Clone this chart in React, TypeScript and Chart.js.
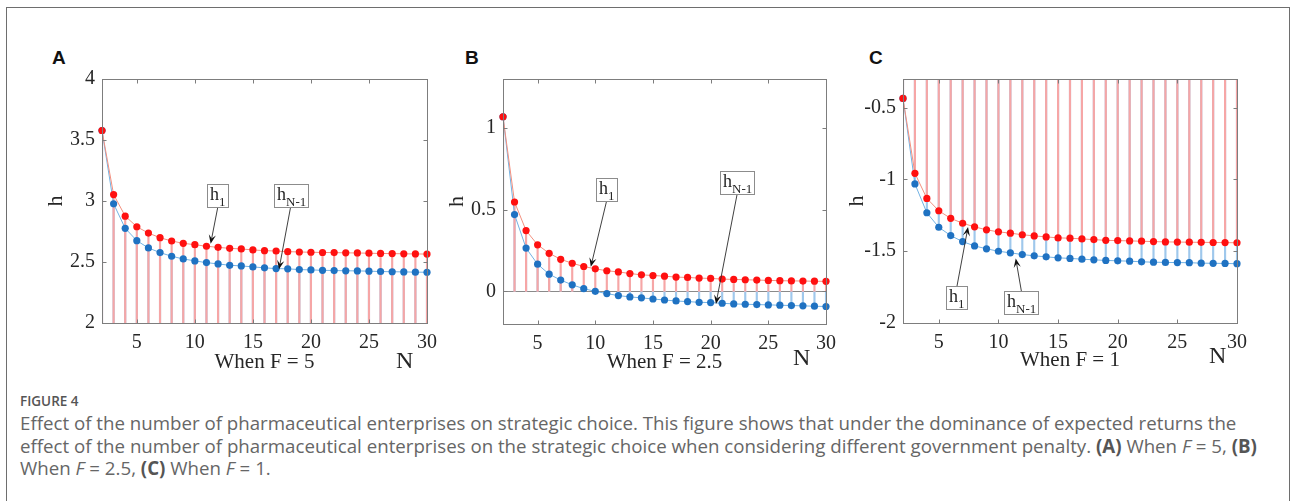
import React, { useEffect, useRef } from 'react';
import { Chart, registerables } from 'chart.js';

Chart.register(...registerables);

// ---------------- data ----------------
const nValues = [2, 3, 4, 5, 6, 7, 8, 9, 10, 11, 12, 13, 14, 15, 16, 17, 18, 19, 20, 21, 22, 23, 24, 25, 26, 27, 28, 29, 30];

const h1A = [3.578, 3.053, 2.876, 2.789, 2.737, 2.699, 2.672, 2.653, 2.642, 2.629, 2.62, 2.612, 2.607, 2.599, 2.593, 2.59, 2.585, 2.582, 2.58, 2.578, 2.577, 2.575, 2.574, 2.572, 2.57, 2.569, 2.567, 2.566, 2.565];
const hN1A = [3.578, 2.977, 2.776, 2.675, 2.615, 2.577, 2.547, 2.525, 2.509, 2.495, 2.484, 2.473, 2.468, 2.46, 2.452, 2.446, 2.444, 2.438, 2.435, 2.432, 2.43, 2.428, 2.427, 2.425, 2.422, 2.42, 2.419, 2.417, 2.416];

const h1B = [1.069, 0.547, 0.372, 0.285, 0.233, 0.196, 0.172, 0.152, 0.138, 0.126, 0.119, 0.109, 0.101, 0.097, 0.093, 0.087, 0.085, 0.081, 0.079, 0.075, 0.073, 0.071, 0.069, 0.067, 0.065, 0.064, 0.063, 0.062, 0.061];
const hN1B = [1.069, 0.47, 0.265, 0.166, 0.105, 0.069, 0.04, 0.016, 0.0, -0.014, -0.026, -0.034, -0.04, -0.047, -0.053, -0.059, -0.063, -0.067, -0.069, -0.073, -0.077, -0.079, -0.081, -0.083, -0.085, -0.087, -0.089, -0.091, -0.093];

const h1C = [-0.435, -0.957, -1.132, -1.218, -1.271, -1.305, -1.33, -1.351, -1.365, -1.374, -1.385, -1.393, -1.4, -1.407, -1.409, -1.414, -1.419, -1.424, -1.426, -1.428, -1.43, -1.433, -1.435, -1.436, -1.437, -1.438, -1.439, -1.44, -1.441];
const hN1C = [-0.435, -1.031, -1.232, -1.333, -1.391, -1.433, -1.463, -1.483, -1.5, -1.511, -1.523, -1.532, -1.539, -1.546, -1.55, -1.555, -1.56, -1.564, -1.567, -1.569, -1.574, -1.576, -1.578, -1.579, -1.58, -1.583, -1.584, -1.585, -1.587];

const xTicks = [5, 10, 15, 20, 25, 30];
const yTicksA = [2, 2.5, 3, 3.5, 4];
const yTicksB = [0, 0.5, 1];
const yTicksC = [-2, -1.5, -1, -0.5];

// ---------------- styles ----------------
const SERIF = "'Liberation Serif', 'Times New Roman', serif";
const SANS = "'Open Sans', 'Liberation Sans', sans-serif";
const AXIS = '#7d7d7d';
const TXT = '#262626';

type Annot = { sub: string; bx: number; by: number; tx: number; ty: number };
type PanelCfg = {
  letter: string;
  h1: number[];
  hN1: number[];
  yTicks: number[];
  yMin: number;
  yMax: number;
  title: string;
  left: number;
  top: number;
  width: number;
  height: number;
  padTop: number;
  padRight: number;
  xAxisH: number;
  titlePadB: number;
  nDx: number;
  nDy: number;
  annots: Annot[];
};

const panels: PanelCfg[] = [
  {
    letter: 'A', h1: h1A, hN1: hN1A, yTicks: yTicksA, yMin: 2, yMax: 4, title: 'When F = 5',
    left: 30, top: 60, width: 420, height: 330, padTop: 18, padRight: 23, xAxisH: 67, titlePadB: 17,
    nDx: -31, nDy: 45,
    annots: [
      { sub: '1', bx: 11.97, by: 3.045, tx: 11.36, ty: 2.65 },
      { sub: 'N-1', bx: 18.24, by: 3.045, tx: 17.25, ty: 2.44 },
    ],
  },
  {
    letter: 'B', h1: h1B, hN1: hN1B, yTicks: yTicksB, yMin: -0.2, yMax: 1.3, title: 'When F = 2.5',
    left: 431, top: 60, width: 419, height: 330, padTop: 17, padRight: 24, xAxisH: 66, titlePadB: 17,
    nDx: -33, nDy: 41,
    annots: [
      { sub: '1', bx: 10.97, by: 0.622, tx: 9.61, ty: 0.15 },
      { sub: 'N-1', bx: 22.29, by: 0.669, tx: 20.46, ty: -0.077 },
    ],
  },
  {
    letter: 'C', h1: h1C, hN1: hN1C, yTicks: yTicksC, yMin: -2, yMax: -0.3, title: 'When F = 1',
    left: 831, top: 60, width: 431, height: 330, padTop: 18, padRight: 25, xAxisH: 67, titlePadB: 19,
    nDx: -28, nDy: 40,
    annots: [
      { sub: '1', bx: 6.52, by: -1.825, tx: 7.45, ty: -1.331 },
      { sub: 'N-1', bx: 11.93, by: -1.858, tx: 11.45, ty: -1.55 },
    ],
  },
];

function pts(xs: number[], ys: number[]) {
  return xs.map((x, i) => ({ x, y: ys[i] }));
}

function drawArrow(ctx: CanvasRenderingContext2D, x0: number, y0: number, x1: number, y1: number) {
  const ang = Math.atan2(y1 - y0, x1 - x0);
  const c = Math.cos(ang);
  const s = Math.sin(ang);
  const L = 9;
  const W = 3.6;
  ctx.beginPath();
  ctx.moveTo(x0, y0);
  ctx.lineTo(x1 - 0.6 * L * c, y1 - 0.6 * L * s);
  ctx.strokeStyle = '#2a2a2a';
  ctx.lineWidth = 0.9;
  ctx.stroke();
  ctx.beginPath();
  ctx.moveTo(x1, y1);
  ctx.lineTo(x1 - L * c + W * s, y1 - L * s - W * c);
  ctx.lineTo(x1 - 0.6 * L * c, y1 - 0.6 * L * s);
  ctx.lineTo(x1 - L * c - W * s, y1 - L * s + W * c);
  ctx.closePath();
  ctx.fillStyle = '#111';
  ctx.fill();
}

function makePlugin(cfg: PanelCfg) {
  return {
    id: 'matlabLook',
    beforeDatasetsDraw(chart: any) {
      const { ctx, chartArea: a, scales } = chart;
      const y = scales.y;
      if (y.min < 0 && y.max > 0) {
        const py = Math.round(y.getPixelForValue(0)) + 0.5;
        ctx.save();
        ctx.strokeStyle = '#8a8a8a';
        ctx.lineWidth = 1;
        ctx.beginPath();
        ctx.moveTo(a.left, py);
        ctx.lineTo(a.right, py);
        ctx.stroke();
        ctx.restore();
      }
    },
    afterDatasetsDraw(chart: any) {
      const { ctx, chartArea: a, scales } = chart;
      const x = scales.x;
      const y = scales.y;
      ctx.save();
      // axes box
      ctx.strokeStyle = AXIS;
      ctx.lineWidth = 1;
      const L = Math.round(a.left) + 0.5;
      const R = Math.round(a.right) + 0.5;
      const T = Math.round(a.top) + 0.5;
      const B = Math.round(a.bottom) + 0.5;
      ctx.strokeRect(L, T, R - L, B - T);
      // inward ticks
      const tl = 4;
      ctx.beginPath();
      x.ticks.forEach((t: any) => {
        const px = Math.round(x.getPixelForValue(t.value)) + 0.5;
        ctx.moveTo(px, B);
        ctx.lineTo(px, B - tl);
        ctx.moveTo(px, T);
        ctx.lineTo(px, T + tl);
      });
      y.ticks.forEach((t: any) => {
        const py = Math.round(y.getPixelForValue(t.value)) + 0.5;
        ctx.moveTo(L, py);
        ctx.lineTo(L + tl, py);
        ctx.moveTo(R, py);
        ctx.lineTo(R - tl, py);
      });
      ctx.stroke();

      // "N" label
      ctx.fillStyle = TXT;
      ctx.font = `24px ${SERIF}`;
      ctx.textBaseline = 'alphabetic';
      ctx.textAlign = 'left';
      ctx.fillText('N', a.right + cfg.nDx, a.bottom + cfg.nDy);

      // annotations
      cfg.annots.forEach((an) => {
        const cx = x.getPixelForValue(an.bx);
        const cy = y.getPixelForValue(an.by);
        const tx = x.getPixelForValue(an.tx);
        const ty = y.getPixelForValue(an.ty);
        ctx.font = `18px ${SERIF}`;
        const w1 = ctx.measureText('h').width;
        ctx.font = `13px ${SERIF}`;
        const w2 = ctx.measureText(an.sub).width;
        const bw = Math.round(w1 + w2 + 5);
        const bh = 23;
        const bl = Math.round(cx - bw / 2) + 0.5;
        const bt = Math.round(cy - bh / 2) + 0.5;
        const sx = cx;
        const sy = ty > cy ? bt + bh : bt;
        drawArrow(ctx, sx, sy, tx, ty);
        ctx.fillStyle = '#ffffff';
        ctx.fillRect(bl, bt, bw, bh);
        ctx.strokeStyle = '#8c8c8c';
        ctx.lineWidth = 1;
        ctx.strokeRect(bl, bt, bw, bh);
        ctx.fillStyle = TXT;
        ctx.font = `18px ${SERIF}`;
        ctx.fillText('h', bl + 2.5, bt + 15);
        ctx.font = `13px ${SERIF}`;
        ctx.fillText(an.sub, bl + 2.5 + w1, bt + 21);
      });
      ctx.restore();
    },
  };
}

function Panel({ cfg }: { cfg: PanelCfg }) {
  const ref = useRef<HTMLCanvasElement>(null);
  useEffect(() => {
    const chart = new Chart(ref.current as HTMLCanvasElement, {
      type: 'line',
      data: {
        datasets: [
          {
            type: 'line',
            data: pts(nValues, cfg.h1),
            borderColor: '#f3907f',
            borderWidth: 1,
            pointRadius: 3.6,
            pointBackgroundColor: '#ff1010',
            pointBorderWidth: 0,
            clip: false,
            order: 0,
          },
          {
            type: 'line',
            data: pts(nValues, cfg.hN1),
            borderColor: '#72b2e4',
            borderWidth: 1,
            pointRadius: 3.6,
            pointBackgroundColor: '#1f72c2',
            pointBorderWidth: 0,
            clip: false,
            order: 1,
          },
          {
            type: 'bar',
            data: pts(nValues, cfg.h1),
            backgroundColor: '#f6a6a6',
            borderWidth: 0,
            barThickness: 1.5,
            grouped: false,
            order: 2,
          },
          {
            type: 'bar',
            data: pts(nValues, cfg.hN1),
            backgroundColor: '#9fc8ec',
            borderWidth: 0,
            barThickness: 1.5,
            grouped: false,
            order: 3,
          },
        ] as any,
      },
      options: {
        animation: false,
        responsive: false,
        maintainAspectRatio: false,
        devicePixelRatio: 1,
        events: [],
        layout: { padding: { left: 0, top: cfg.padTop, right: cfg.padRight, bottom: 0 } },
        plugins: { legend: { display: false }, tooltip: { enabled: false } },
        scales: {
          x: {
            type: 'linear',
            min: 2,
            max: 30,
            offset: false,
            grid: { display: false, drawTicks: false },
            border: { display: false },
            afterBuildTicks: (s: any) => {
              s.ticks = xTicks.map((v) => ({ value: v }));
            },
            afterFit: (s: any) => {
              s.height = cfg.xAxisH;
            },
            ticks: {
              autoSkip: false,
              maxRotation: 0,
              padding: 8,
              color: TXT,
              font: { family: SERIF, size: 20 },
              callback: (v: any) => String(v),
            },
            title: {
              display: true,
              text: cfg.title,
              color: TXT,
              font: { family: SERIF, size: 21, lineHeight: 1 },
              padding: { top: 0, bottom: cfg.titlePadB },
            },
          },
          y: {
            type: 'linear',
            min: cfg.yMin,
            max: cfg.yMax,
            grid: { display: false, drawTicks: false },
            border: { display: false },
            afterBuildTicks: (s: any) => {
              s.ticks = cfg.yTicks.map((v) => ({ value: v }));
            },
            afterFit: (s: any) => {
              s.width = 72;
            },
            ticks: {
              autoSkip: false,
              padding: 7,
              color: TXT,
              font: { family: SERIF, size: 20 },
              callback: (v: any) => String(v),
            },
            title: {
              display: true,
              text: 'h',
              color: TXT,
              font: { family: SERIF, size: 22, lineHeight: 1 },
              padding: { top: 15, bottom: 0 },
            },
          },
        },
      } as any,
      plugins: [makePlugin(cfg)],
    });
    return () => chart.destroy();
  }, [cfg]);
  return (
    <canvas
      ref={ref}
      width={cfg.width}
      height={cfg.height}
      style={{ position: 'absolute', left: cfg.left, top: cfg.top, width: cfg.width, height: cfg.height }}
    />
  );
}

const letterPos: { [k: string]: number } = { A: 52, B: 465, C: 869 };

export default function App() {
  return (
    <div
      style={{
        position: 'absolute',
        left: 0,
        top: 0,
        width: 1292,
        height: 501,
        overflow: 'hidden',
        background: '#ffffff',
      }}
    >
      <div
        style={{
          position: 'absolute',
          left: 6,
          top: 7,
          width: 1282,
          height: 560,
          border: '1px solid #6e6e6e',
        }}
      />
      {panels.map((p) => (
        <div
          key={p.letter}
          style={{
            position: 'absolute',
            left: letterPos[p.letter],
            top: 48,
            font: `bold 19px 'Liberation Sans', Arial, sans-serif`,
            lineHeight: 1,
            color: '#111',
          }}
        >
          {p.letter}
        </div>
      ))}
      {panels.map((p) => (
        <Panel key={p.letter + 'c'} cfg={p} />
      ))}
      <div
        style={{
          position: 'absolute',
          left: 20,
          top: 395,
          font: `600 13.5px ${SANS}`,
          lineHeight: 1,
          color: '#555',
          whiteSpace: 'nowrap',
        }}
      >
        FIGURE 4
      </div>
      <div
        style={{
          position: 'absolute',
          left: 20,
          top: 412,
          font: `18.7px ${SANS}`,
          lineHeight: '22.5px',
          color: '#666',
          whiteSpace: 'nowrap',
        }}
      >
        Effect of the number of pharmaceutical enterprises on strategic choice. This figure shows that under the dominance of expected returns the
        <br />
        effect of the number of pharmaceutical enterprises on the strategic choice when considering different government penalty.{' '}
        <b style={{ color: '#555' }}>(A)</b> When <i>F</i> = 5, <b style={{ color: '#555' }}>(B)</b>
        <br />
        When <i>F</i> = 2.5, <b style={{ color: '#555' }}>(C)</b> When <i>F</i> = 1.
      </div>
    </div>
  );
}
